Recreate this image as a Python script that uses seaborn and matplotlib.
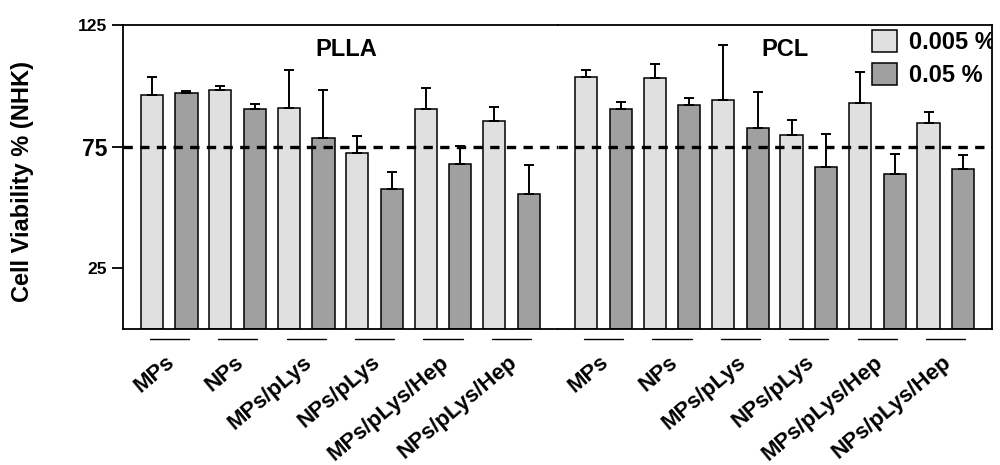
"""
Cell viability (NHK) for PLLA and PCL particle formulations
Grouped bar chart with one-sided error bars, two concentrations.
"""

import numpy as np
import pandas as pd
import matplotlib
matplotlib.use('Agg')
import matplotlib.pyplot as plt
import matplotlib.transforms as mtransforms
import seaborn as sns

sns.set_style("ticks")
plt.rcParams['font.family'] = ['Liberation Sans', 'DejaVu Sans']
plt.rcParams['font.weight'] = 'bold'
plt.rcParams['axes.labelweight'] = 'bold'
for key in ['text.color', 'axes.labelcolor', 'axes.edgecolor', 'xtick.color', 'ytick.color']:
    plt.rcParams[key] = 'black'

# -------------------------------------------------------
# Data
# -------------------------------------------------------
FORMULATIONS = ['MPs', 'NPs', 'MPs/pLys', 'NPs/pLys', 'MPs/pLys/Hep', 'NPs/pLys/Hep']
POLYMERS = ['PLLA', 'PCL']
CONCENTRATIONS = ['0.005 %', '0.05 %']

plla_low = [96.4, 98.5, 90.8, 72.4, 90.5, 85.5]
plla_low_err = [7.3, 1.6, 15.9, 6.9, 8.5, 5.8]
plla_high = [97.2, 90.7, 78.5, 57.5, 67.8, 55.7]
plla_high_err = [0.7, 1.7, 19.7, 7.1, 7.5, 11.7]

pcl_low = [103.8, 103.2, 94.2, 79.7, 92.9, 84.9]
pcl_low_err = [2.6, 5.8, 22.6, 6.2, 12.8, 4.5]
pcl_high = [90.4, 92.3, 82.9, 66.8, 63.8, 65.9]
pcl_high_err = [2.9, 2.6, 14.5, 13.6, 8.2, 5.7]

THRESHOLD = 75
Y_TICKS = [25, 75, 125]

PALETTE = {'0.005 %': '#e0e0e0', '0.05 %': '#a0a0a0'}


def build_frame() -> pd.DataFrame:
    values = {
        ('PLLA', '0.005 %'): (plla_low, plla_low_err),
        ('PLLA', '0.05 %'): (plla_high, plla_high_err),
        ('PCL', '0.005 %'): (pcl_low, pcl_low_err),
        ('PCL', '0.05 %'): (pcl_high, pcl_high_err),
    }
    rows = []
    for (polymer, conc), (means, errs) in values.items():
        for form, m, e in zip(FORMULATIONS, means, errs):
            rows.append({'Polymer': polymer, 'Formulation': form,
                         'Concentration': conc, 'Viability': m, 'Error': e})
    return pd.DataFrame(rows)


df = build_frame()

fig, axes = plt.subplots(1, 2, figsize=(10, 4.65), dpi=100, sharey=True)
fig.subplots_adjust(left=0.1233, right=0.9917, bottom=0.2918, top=0.9462, wspace=0)

title_pos = {'PLLA': (0.514, 0.918), 'PCL': (0.523, 0.918)}

for ax, polymer in zip(axes, POLYMERS):
    sub = df[df['Polymer'] == polymer]
    sns.barplot(data=sub, x='Formulation', y='Viability', hue='Concentration',
                order=FORMULATIONS, hue_order=CONCENTRATIONS, palette=PALETTE,
                saturation=1, width=1.01, gap=0.36, edgecolor='black', linewidth=1.1,
                errorbar=None, legend=(polymer == 'PCL'), ax=ax)

    # upper-only error bars on top of the bars
    for container, conc in zip(ax.containers, CONCENTRATIONS):
        xs = [b.get_x() + b.get_width() / 2 for b in container]
        hs = [b.get_height() for b in container]
        errs = sub[sub['Concentration'] == conc].set_index('Formulation').loc[FORMULATIONS, 'Error'].values
        ax.errorbar(xs, hs, yerr=[np.zeros(len(errs)), errs], fmt='none',
                    ecolor='black', elinewidth=1.4, capsize=3.5, capthick=1.4)

    ax.axhline(THRESHOLD, color='black', linewidth=2.4, linestyle=(0, (2.8, 2.2)), zorder=5)

    ax.set_xlim(-0.67, 5.67)
    ax.set_ylim(0, 125)
    ax.set_xlabel('')
    ax.text(*title_pos[polymer], polymer, transform=ax.transAxes, ha='center', va='center',
            fontsize=17, fontweight='bold')

    # group lines under each pair of bars
    trans = mtransforms.blended_transform_factory(ax.transData, ax.transAxes)
    for xt in ax.get_xticks():
        ax.plot([xt - 0.287, xt + 0.287], [-0.033, -0.033], color='black', linewidth=1.0,
                transform=trans, clip_on=False)

    ax.set_xticks(range(len(FORMULATIONS)), labels=FORMULATIONS, rotation=40, ha='right',
                  va='center', rotation_mode='anchor', fontsize=16)
    ax.tick_params(axis='x', length=0, pad=22)
    shift = mtransforms.ScaledTranslation(3 / 100, 0, fig.dpi_scale_trans)
    for lbl in ax.get_xticklabels():
        lbl.set_transform(lbl.get_transform() + shift)

    for spine in ax.spines.values():
        spine.set_linewidth(1.3)

ax1, ax2 = axes
ax1.spines['right'].set_visible(False)
ax2.spines['left'].set_visible(False)
ax2.tick_params(axis='y', left=False, labelleft=False)

ax1.set_yticks(Y_TICKS, labels=[str(t) for t in Y_TICKS])
ax1.tick_params(axis='y', length=8, width=1.3, labelsize=12.5)
for lbl in ax1.get_yticklabels():
    if lbl.get_text() == str(THRESHOLD):
        lbl.set_fontsize(16.5)
ax1.set_ylabel('Cell Viability % (NHK)', fontsize=17, fontweight='bold')
ax1.yaxis.set_label_coords(-0.205, 0.486)

sns.move_legend(ax2, 'upper left', bbox_to_anchor=(0.7236, 0.985), frameon=False, title=None,
                prop={'size': 17, 'weight': 'bold'}, handlelength=1.08, handleheight=1.06,
                labelspacing=0.4, handletextpad=0.5, borderpad=0, borderaxespad=0)
leg = ax2.get_legend()
for txt in leg.get_texts():
    txt.set_clip_box(ax2.bbox)
    txt.set_clip_on(True)

fig.savefig('out.png', dpi=100)
plt.close(fig)
print("Saved: out.png")
